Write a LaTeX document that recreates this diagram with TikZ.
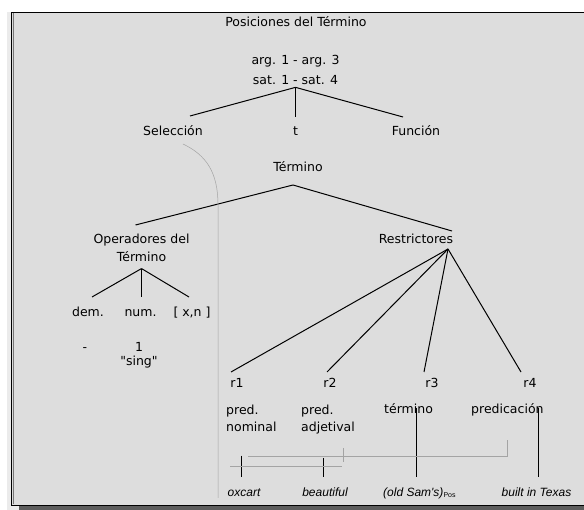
\documentclass[tikz,border=0pt]{standalone}
\usepackage{fontspec}
\setmainfont{DejaVu Sans}
\newfontfamily\examplefont{Liberation Sans}
% straight double quote, typeset by glyph so the TeX mapping leaves it alone
\newcommand\straightdq{\XeTeXglyph\XeTeXcharglyph"22\relax}
\definecolor{panelfill}{HTML}{DDDDDD}
\definecolor{stripfill}{HTML}{EBEBEB}
\definecolor{shadowfill}{HTML}{5C5C5C}
\definecolor{bevel}{HTML}{777777}
\definecolor{guidegray}{HTML}{A4A4A4}
\begin{document}
\begin{tikzpicture}[x=1pt,y=-1pt,
  lbl/.style={inner sep=0pt, anchor=base, font=\fontsize{12.5}{15}\selectfont},
  multi/.style={inner sep=0pt, font=\fontsize{12.5}{#1}\selectfont},
  example/.style={inner sep=0pt, anchor=base, font=\examplefont\itshape\fontsize{12}{14}\selectfont},
  branch/.style={line width=1pt, black},
  guideline/.style={line width=0.5pt, guidegray}
]
\useasboundingbox (0,0) rectangle (584,510);

% frame with light strip, drop shadow and bevel
\fill[stripfill] (7,12) rectangle (19,510);
\fill[shadowfill] (19,506) rectangle (584,510);
\filldraw[fill=panelfill, draw=black, line width=1.2pt] (11.6,12.6) rectangle (600,505.4);
\draw[bevel, line width=0.9pt] (13.2,13.5) -- (13.2,504.5);

% title
\node[lbl] (title) at (296,27) {Posiciones del Término};

% positions of the term
\node[multi=20, align=center, anchor=north] (pos) at (295.5,55) {arg. 1 - arg. 3\\sat. 1 - sat. 4};
\node[lbl] (sel) at (173,135.5) {Selección};
\node[lbl] (tt)  at (295.5,135.5) {t};
\node[lbl] (fun) at (416,135.5) {Función};
\draw[branch] ([shift={(0,2.5)}]pos.south) -- ([shift={(17,-19.5)}]sel.base);
\draw[branch] ([shift={(0,2.5)}]pos.south) -- ([shift={(0,-18.5)}]tt.base);
\draw[branch] ([shift={(0,2.5)}]pos.south) -- ([shift={(-13,-18.5)}]fun.base);

% the term
\node[lbl] (term) at (298,171.5) {Término};
\node[multi=18, align=center, anchor=north] (ops) at (141.5,234) {Operadores del\\Término};
\node[lbl] (res) at (416,243.5) {Restrictores};
\draw[branch] ([shift={(-5,13.5)}]term.base) -- ([shift={(-6,-9)}]ops.north);
\draw[branch] ([shift={(-5,13.5)}]term.base) -- ([shift={(36,-12.5)}]res.base);

% term operators
\node[lbl] (dem) at (88,316.5)  {dem.};
\node[lbl] (num) at (140.5,316.5) {num.};
\node[lbl] (xn)  at (192,316.5) {[ x,n ]};
\draw[branch] ([shift={(0,6.5)}]ops.south) -- ([shift={(4,-19.5)}]dem.base);
\draw[branch] ([shift={(0,6.5)}]ops.south) -- ([shift={(1,-19.5)}]num.base);
\draw[branch] ([shift={(0,6.5)}]ops.south) -- ([shift={(-3,-19.5)}]xn.base);
\node[lbl] (dash) at (85,351.5) {-};
\node[multi=14, align=center, anchor=north] (sing) at (139,342.4) {1\\\straightdq sing\straightdq};

% restrictors
\node[lbl] (r1) at (237,387.5) {r1};
\node[lbl] (r2) at (330,387.5) {r2};
\node[lbl] (r3) at (432,387.5) {r3};
\node[lbl] (r4) at (530,387.5) {r4};
\draw[branch] ([shift={(32,5.5)}]res.base) -- ([shift={(-6,-15.5)}]r1.base);
\draw[branch] ([shift={(32,5.5)}]res.base) -- ([shift={(-3,-15.5)}]r2.base);
\draw[branch] ([shift={(32,5.5)}]res.base) -- ([shift={(-8,-15.5)}]r3.base);
\draw[branch] ([shift={(32,5.5)}]res.base) -- ([shift={(-9,-15.5)}]r4.base);

% restrictor types
\node[multi=17, align=left, anchor=north west] (pn) at (226,404.5) {pred.\\nominal};
\node[multi=17, align=left, anchor=north west] (pa) at (301,404.5) {pred.\\adjetival};
\node[lbl, anchor=base west] (tm) at (384,414) {término};
\node[lbl, anchor=base west] (pc) at (471,414) {predicación};

% examples
\node[example] (ox)  at (244,496.5) {oxcart};
\node[example] (bea) at (325,496.5) {beautiful};
\node[example, anchor=base west] (sam) at (383,496.5) {(old Sam's)\raisebox{-1.5pt}{\upshape\fontsize{7}{8}\selectfont Pos}};
\node[example] (bit) at (536.5,496.5) {built in Texas};
\draw[branch] ([shift={(15.5,24)}]pn.south west) -- ([shift={(-2.5,-19.5)}]ox.base);
\draw[branch] ([shift={(22.5,24)}]pa.south west) -- ([shift={(-1.5,-19.5)}]bea.base);
\draw[branch] ([shift={(32.5,-6)}]tm.base west) -- ([shift={(33.5,-19.5)}]sam.base west);
\draw[branch] ([shift={(67.5,-6)}]pc.base west) -- ([shift={(2,-19.5)}]bit.base);

% thin grey guide lines
\draw[guideline] ([shift={(10,8.5)}]sel.base) .. controls (206,155) and (218,172) .. (218,205) -- (218,498);
\draw[guideline] (230,466) -- (342,466);
\draw[guideline] (343,448) -- (343,462);
\draw[guideline] (248,456) -- (507,456) -- (507,440);
\end{tikzpicture}
\end{document}
